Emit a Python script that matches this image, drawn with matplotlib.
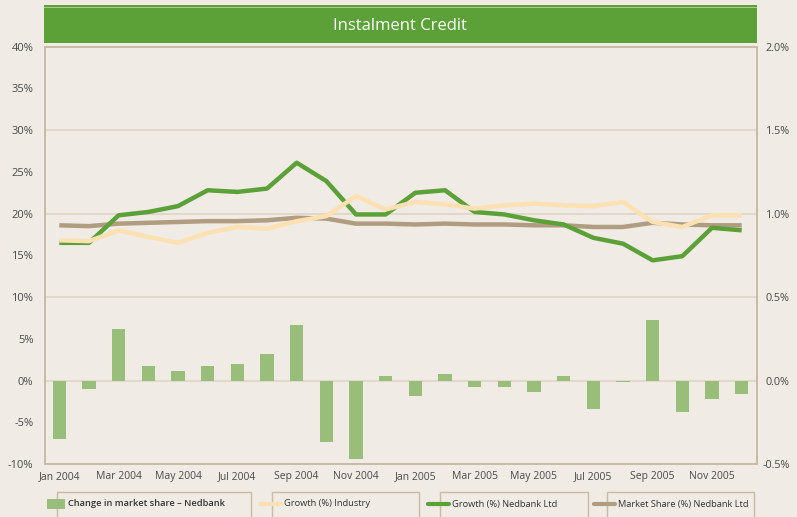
import numpy as np
import matplotlib
matplotlib.use("Agg")
import matplotlib.pyplot as plt
from matplotlib.patches import Rectangle
from matplotlib.lines import Line2D

# === DATA ===
months = ["Jan 2004", "Feb 2004", "Mar 2004", "Apr 2004", "May 2004", "Jun 2004",
          "Jul 2004", "Aug 2004", "Sep 2004", "Oct 2004", "Nov 2004", "Dec 2004",
          "Jan 2005", "Feb 2005", "Mar 2005", "Apr 2005", "May 2005", "Jun 2005",
          "Jul 2005", "Aug 2005", "Sep 2005", "Oct 2005", "Nov 2005", "Dec 2005"]

# change in market share (percentage points, right axis)
share_change = [-0.35, -0.05, 0.31, 0.09, 0.06, 0.09, 0.10, 0.16, 0.33, -0.37, -0.47, 0.03,
                -0.09, 0.04, -0.04, -0.04, -0.07, 0.03, -0.17, -0.01, 0.36, -0.19, -0.11, -0.08]

# left axis series (%)
growth_industry = [16.8, 16.7, 18.0, 17.2, 16.5, 17.7, 18.4, 18.2, 19.1, 19.7, 22.1, 20.5,
                   21.4, 21.1, 20.6, 21.0, 21.2, 21.0, 20.9, 21.4, 19.0, 18.4, 19.8, 19.8]
growth_nedbank = [16.5, 16.5, 19.8, 20.2, 20.9, 22.8, 22.6, 23.0, 26.1, 23.9, 19.9, 19.9,
                  22.5, 22.8, 20.2, 19.9, 19.2, 18.7, 17.1, 16.4, 14.4, 14.9, 18.3, 18.0]
market_share = [18.6, 18.5, 18.8, 18.9, 19.0, 19.1, 19.1, 19.2, 19.5, 19.4, 18.8, 18.8,
                18.7, 18.8, 18.7, 18.7, 18.6, 18.6, 18.4, 18.4, 18.9, 18.7, 18.6, 18.6]

left_ticks = [-10, -5, 0, 5, 10, 15, 20, 25, 30, 35, 40]
right_ticks = [-0.5, 0.0, 0.5, 1.0, 1.5, 2.0]

title = "Instalment Credit"
legend_labels = ["Change in market share \u2013 Nedbank", "Growth (%) Industry",
                 "Growth (%) Nedbank Ltd", "Market Share (%) Nedbank Ltd"]

# === STYLE ===
bg = "#F0EBE4"
green = "#5BA137"
bar_green = "#98BE7A"
cream = "#FDE1B2"
tan = "#B09C80"
grid_col = "#DDD5C7"
frame_col = "#C9BBA2"
text_col = "#4A4A4A"

plt.rcParams["font.family"] = ["Open Sans", "DejaVu Sans"]

W, H = 797, 517
fig = plt.figure(figsize=(W / 100, H / 100), dpi=100, facecolor=bg)


def fx(px):
    return px / W


def fy(py):
    return 1 - py / H


ax = fig.add_axes([fx(44.5), fy(464), fx(756.5 - 44.5), (464 - 46.7) / H])
x = np.arange(len(months))

ax.set_xlim(-0.5, len(months) - 0.5)
ax.set_ylim(-10, 40)
ax.set_yticks(left_ticks)
ax.set_yticklabels([f"{t}%" for t in left_ticks])
ax.set_xticks(x[::2])
ax.set_xticklabels(months[::2])
ax.tick_params(length=0, labelcolor=text_col)
ax.tick_params(axis="y", pad=8, labelsize=8)
ax.tick_params(axis="x", pad=5, labelsize=7.5)
for s in ax.spines.values():
    s.set_color(frame_col)
    s.set_linewidth(1.2)

# right axis holds the bars (pp change) and the gridlines
ax2 = ax.twinx()
ax2.set_ylim(-0.5, 2.0)
ax2.set_yticks(right_ticks)
ax2.set_yticklabels([f"{t:.1f}%" for t in right_ticks], ha="right")
ax2.tick_params(length=0, labelsize=7.8, labelcolor=text_col, pad=24)
for s in ax2.spines.values():
    s.set_color(frame_col)
    s.set_linewidth(1.2)
ax2.grid(axis="y", color=grid_col, linewidth=1.2, zorder=0)
ax2.set_axisbelow(True)
ax2.bar(x, share_change, width=0.45, color=bar_green, zorder=1)

# lines on top
ax.set_zorder(ax2.get_zorder() + 1)
ax.patch.set_visible(False)
ax2.patch.set_visible(True)
ax2.patch.set_facecolor(bg)

ax.plot(x, market_share, color=tan, linewidth=3.2, solid_capstyle="butt")
ax.plot(x, growth_nedbank, color=green, linewidth=3.2, solid_capstyle="butt")
ax.plot(x, growth_industry, color=cream, linewidth=3.2, solid_capstyle="butt")

# title banner
fig.patches.append(Rectangle((fx(44), fy(42.7)), fx(756.5 - 44), (42.7 - 5) / H,
                             transform=fig.transFigure, facecolor=green, edgecolor="none"))
fig.patches.append(Rectangle((fx(44), fy(8.3)), fx(756.5 - 44), 1.3 / H,
                             transform=fig.transFigure, facecolor="#A9CC8E", edgecolor="none"))
fig.text(fx(400), fy(25.5), title, color="white", fontsize=12, ha="center", va="center")

# legend boxes along the bottom
boxes = [(57, 251), (272, 419), (440, 588), (607, 754)]
markers = [(47, 65), (260, 281), (428, 449), (594, 615)]
styles = ["bar", cream, green, tan]
for (bx0, bx1), (mx0, mx1), st, lab in zip(boxes, markers, styles, legend_labels):
    fig.patches.append(Rectangle((fx(bx0), fy(530)), fx(bx1 - bx0), (530 - 492) / H,
                                 transform=fig.transFigure, facecolor="none",
                                 edgecolor=frame_col, linewidth=1.0))
    if st == "bar":
        fig.patches.append(Rectangle((fx(mx0), fy(509)), fx(mx1 - mx0), 10 / H,
                                     transform=fig.transFigure, facecolor=bar_green,
                                     edgecolor="none"))
        weight = "semibold"
    else:
        fig.lines.append(Line2D([fx(mx0), fx(mx1)], [fy(504), fy(504)],
                                transform=fig.transFigure, color=st, linewidth=3,
                                solid_capstyle="round"))
        weight = "normal"
    fig.text(fx(mx1 + 3.5), fy(504), lab, fontsize=6.7, color="#333333",
             ha="left", va="center", fontweight=weight)

fig.savefig("out.png", dpi=100, facecolor=bg)
